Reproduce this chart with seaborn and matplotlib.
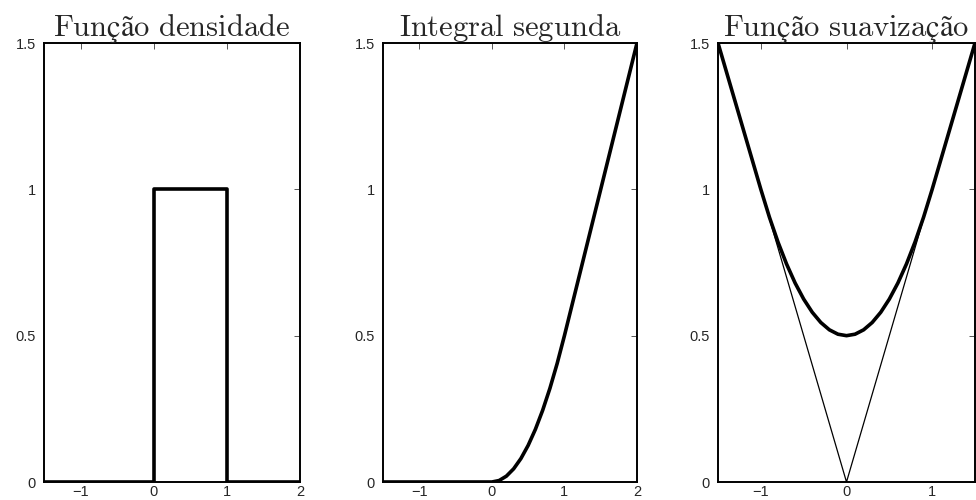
import matplotlib
matplotlib.use("Agg")
import matplotlib.pyplot as plt
import seaborn as sns

# panel 1: densidade (uniforme em [0,1])
dens_x = [-1.5, 0, 0, 1, 1, 2]
dens_y = [0, 0, 1, 1, 0, 0]

# panel 2: integral segunda
int_x = [-1.5, 0, 0.1, 0.2, 0.3, 0.4, 0.5, 0.6, 0.7, 0.8, 0.9, 1.0, 2.0]
int_y = [0, 0, 0.005, 0.02, 0.045, 0.08, 0.125, 0.18, 0.245, 0.32, 0.405, 0.5, 1.5]

# panel 3: suavizacao
suav_x = [-1.5, -1.0, -0.9, -0.8, -0.7, -0.6, -0.5, -0.4, -0.3, -0.2, -0.1, 0.0,
          0.1, 0.2, 0.3, 0.4, 0.5, 0.6, 0.7, 0.8, 0.9, 1.0, 1.5]
suav_y = [1.5, 1.0, 0.905, 0.82, 0.745, 0.68, 0.625, 0.58, 0.545, 0.52, 0.505, 0.5,
          0.505, 0.52, 0.545, 0.58, 0.625, 0.68, 0.745, 0.82, 0.905, 1.0, 1.5]
abs_x = [-1.5, 0, 1.5]
abs_y = [1.5, 0, 1.5]

titles = [r"$\mathrm{Função\ densidade}$", r"$\mathrm{Integral\ segunda}$",
          r"$\mathrm{Função\ suavização}$"]
xlims = [(-1.5, 2), (-1.5, 2), (-1.5, 1.5)]

sns.set_style("white")
plt.rcParams["font.family"] = ["Liberation Sans", "DejaVu Sans"]
plt.rcParams["mathtext.fontset"] = "cm"

fig = plt.figure(figsize=(9.76, 5.0), dpi=100)
W, H = 976, 500
boxes = [(44, 300), (383, 637), (718, 975)]
axes = []
for l, r in boxes:
    axes.append(fig.add_axes([l / W, 1 - 482 / H, (r - l) / W, (482 - 43) / H]))

sns.lineplot(x=dens_x, y=dens_y, ax=axes[0], sort=False, estimator=None, color="black", lw=2.6)
sns.lineplot(x=int_x, y=int_y, ax=axes[1], sort=False, estimator=None, color="black", lw=2.6)
sns.lineplot(x=abs_x, y=abs_y, ax=axes[2], sort=False, estimator=None, color="black", lw=0.9)
sns.lineplot(x=suav_x, y=suav_y, ax=axes[2], sort=False, estimator=None, color="black", lw=2.6)

for ax, t, xl in zip(axes, titles, xlims):
    ax.set_xlim(*xl)
    ax.set_ylim(0, 1.5)
    ax.set_yticks([0, 0.5, 1, 1.5])
    ax.set_yticklabels(["0", "0.5", "1", "1.5"])
    ax.set_xticks([v for v in [-1, 0, 1, 2] if xl[0] <= v <= xl[1]])
    ax.set_xticklabels(["\u22121" if v == -1 else str(v) for v in ax.get_xticks().astype(int)])
    ax.tick_params(direction="in", top=True, right=True, length=4, width=0.7,
                   labelsize=10.5, color="#555555")
    ax.tick_params(axis="x", pad=2)
    ax.tick_params(axis="y", pad=6)
    for s in ax.spines.values():
        s.set_linewidth(1.4)
        s.set_color("black")
    ax.set_title(t, fontsize=22, pad=5)

fig.savefig("out.png", dpi=100)
